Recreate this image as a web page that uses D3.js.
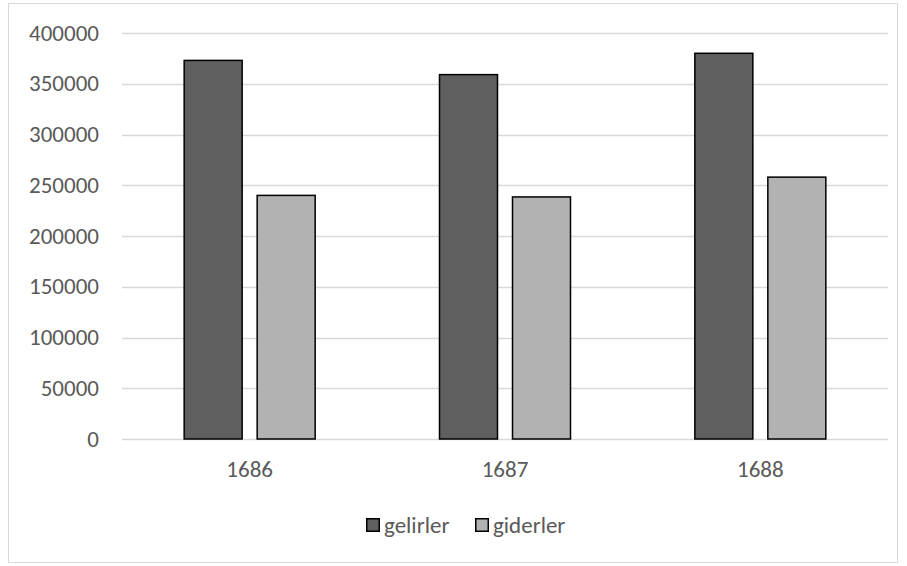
<!DOCTYPE html>
<html>
<head>
<meta charset="utf-8">
<script src="https://cdn.jsdelivr.net/npm/d3@7"></script>
<style>
  body { margin: 0; background: #fff; }
  svg text { font-family: Carlito, "Open Sans", "Liberation Sans", sans-serif; fill: #595959; }
</style>
</head>
<body>
<div id="chart"></div>
<script>
const years = ["1686", "1687", "1688"];
const seriesNames = ["gelirler", "giderler"];
const gelirler = [373000, 359000, 380000];
const giderler = [240000, 238500, 258000];
const yTicks = [0, 50000, 100000, 150000, 200000, 250000, 300000, 350000, 400000];

const colors = { gelirler: "#5f5f5f", giderler: "#b2b2b2" };

const W = 907, H = 566;
const plot = { left: 122, right: 888, top: 33, bottom: 439 };
const fontSize = "23px";

const svg = d3.select("#chart").append("svg")
    .attr("width", W).attr("height", H);

// çerçeve
svg.append("rect")
    .attr("x", 8.5).attr("y", 3.5)
    .attr("width", 889).attr("height", 559)
    .attr("fill", "#fff")
    .attr("stroke", "#d9d9d9")
    .attr("stroke-width", 1);

const x = d3.scaleBand().domain(years).range([plot.left, plot.right]);
const y = d3.scaleLinear().domain([0, 400000]).range([plot.bottom, plot.top]);

// ızgara
svg.append("g")
    .selectAll("line")
    .data(yTicks)
    .join("line")
    .attr("x1", plot.left).attr("x2", plot.right)
    .attr("y1", d => Math.round(y(d)) + 0.5)
    .attr("y2", d => Math.round(y(d)) + 0.5)
    .attr("stroke", "#d9d9d9")
    .attr("stroke-width", 1.3);

// y ekseni etiketleri
svg.append("g")
    .selectAll("text")
    .data(yTicks)
    .join("text")
    .attr("x", 99)
    .attr("y", d => y(d))
    .attr("dy", "0.33em")
    .attr("text-anchor", "end")
    .style("font-size", fontSize)
    .text(d => d);

// x ekseni etiketleri
svg.append("g")
    .selectAll("text")
    .data(years)
    .join("text")
    .attr("x", d => x(d) + x.bandwidth() / 2)
    .attr("y", 477)
    .attr("text-anchor", "middle")
    .style("font-size", fontSize)
    .text(d => d);

// sütunlar
const barW = 58, gap = 15;
const data = years.map((yr, i) => ({ year: yr, gelirler: gelirler[i], giderler: giderler[i] }));
const inner = d3.scaleOrdinal().domain(seriesNames).range([-(barW + gap) / 2, (barW + gap) / 2]);

seriesNames.forEach(s => {
    svg.append("g")
        .selectAll("rect")
        .data(data)
        .join("rect")
        .attr("x", d => x(d.year) + x.bandwidth() / 2 + inner(s) - barW / 2)
        .attr("y", d => y(d[s]))
        .attr("width", barW)
        .attr("height", d => y(0) - y(d[s]))
        .attr("fill", colors[s])
        .attr("stroke", "#000")
        .attr("stroke-width", 1.5);
});

// lejant
const legend = svg.append("g");
const legendX = [366, 475];
seriesNames.forEach((s, i) => {
    legend.append("rect")
        .attr("x", legendX[i] + 0.75).attr("y", 518.75)
        .attr("width", 12.5).attr("height", 12.5)
        .attr("fill", colors[s])
        .attr("stroke", "#000")
        .attr("stroke-width", 1.5);
    legend.append("text")
        .attr("x", legendX[i] + 18)
        .attr("y", 533)
        .style("font-size", fontSize)
        .text(s);
});
</script>
</body>
</html>
